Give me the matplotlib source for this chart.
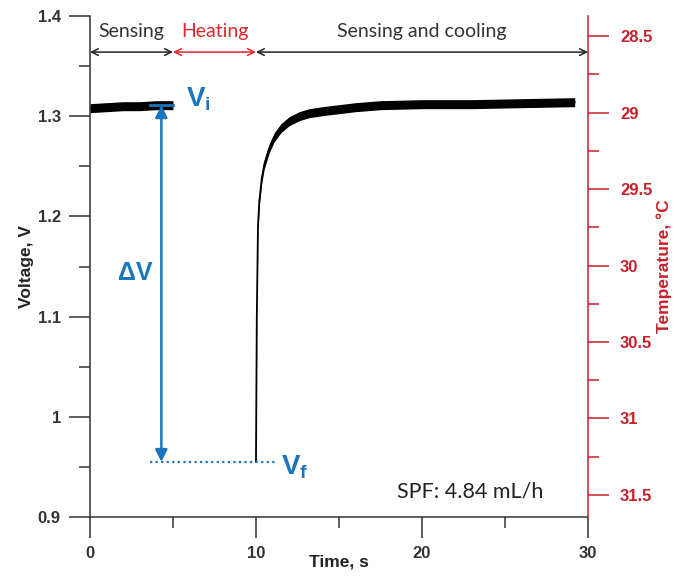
import matplotlib
matplotlib.use("Agg")
import matplotlib.pyplot as plt
from matplotlib.ticker import MultipleLocator, FuncFormatter
import numpy as np

# ---- data ----
t_sensing = [0.0, 1.0, 2.0, 3.0, 4.0, 5.0]
v_sensing = [1.308, 1.309, 1.310, 1.310, 1.311, 1.311]

t_cooling = [10.0, 10.05, 10.12, 10.2, 10.35, 10.5, 10.8, 11.1, 11.5, 12.0,
             12.6, 13.2, 14.0, 15.0, 16.0, 17.5, 20.0, 23.0, 26.0, 29.2]
v_cooling = [0.955, 1.10, 1.19, 1.215, 1.238, 1.252, 1.268, 1.279, 1.288, 1.295,
             1.300, 1.303, 1.305, 1.307, 1.309, 1.311, 1.312, 1.312, 1.313, 1.314]

noise_band = 0.0045          # half-width of the signal noise band, V
v_initial = 1.311            # V_i
v_final = 0.955              # V_f
phase_bounds = [0, 5, 10, 30]
phase_labels = ["Sensing", "Heating", "Sensing and cooling"]
spf_label = "SPF: 4.84 mL/h"

BLUE = "#1b75bc"
RED = "#e0262d"
AXRED = "#c8202a"
DARK = "#222222"

plt.rcParams["mathtext.fontset"] = "custom"
plt.rcParams["mathtext.bf"] = "Liberation Sans:bold"
plt.rcParams["mathtext.rm"] = "Liberation Sans"

fig = plt.figure(figsize=(6.75, 5.84), dpi=100)
ax = fig.add_axes([0.1333, 0.1147, 0.7378, 0.8579])

# voltage trace
for tt, vv in ((t_sensing, v_sensing), (t_cooling, v_cooling)):
    tt = np.asarray(tt)
    vv = np.asarray(vv)
    ax.fill_between(tt, vv - noise_band, vv + noise_band, color="black", lw=0)
    ax.plot(tt, vv, color="black", lw=1.3)

ax.set_xlim(0, 30)
ax.set_ylim(0.9, 1.4)
ax.xaxis.set_major_locator(MultipleLocator(10))
ax.xaxis.set_minor_locator(MultipleLocator(5))
ax.yaxis.set_major_locator(MultipleLocator(0.1))
ax.yaxis.set_minor_locator(MultipleLocator(0.05))
ax.yaxis.set_major_formatter(FuncFormatter(lambda v, p: f"{v:g}"))
ax.tick_params(which="major", length=15, width=1.1, color="#333333",
               direction="out", pad=6)
ax.tick_params(which="minor", length=8, width=1.1, color="#333333", direction="out")
for s in ("top", "right"):
    ax.spines[s].set_visible(False)
for s in ("left", "bottom"):
    ax.spines[s].set_color("#333333")
    ax.spines[s].set_linewidth(1.1)
for lbl in ax.get_xticklabels() + ax.get_yticklabels():
    lbl.set_fontfamily("Liberation Sans")
    lbl.set_fontweight("bold")
    lbl.set_fontsize(12)
    lbl.set_color("#333333")

ax.set_xlabel("Time, s", fontfamily="Liberation Sans", fontweight="bold",
              fontsize=12.5, color=DARK)
ax.xaxis.set_label_coords(0.5, -0.074)
ax.set_ylabel("Voltage, V", fontfamily="Liberation Sans", fontweight="bold",
              fontsize=12.5, color=DARK)
ax.yaxis.set_label_coords(-0.113, 0.5)

# temperature axis (inverted)
ax2 = ax.twinx()
ax2.set_ylim(31.644, 28.369)
ax2.yaxis.set_major_locator(MultipleLocator(0.5))
ax2.yaxis.set_minor_locator(MultipleLocator(0.25))
ax2.yaxis.set_major_formatter(FuncFormatter(lambda v, p: f"{v:g}"))
for s in ("top", "left", "bottom"):
    ax2.spines[s].set_visible(False)
ax2.spines["right"].set_color(AXRED)
ax2.spines["right"].set_linewidth(1.1)
ax2.tick_params(which="major", length=15, width=1.1, color=AXRED, pad=8)
ax2.tick_params(which="minor", length=8, width=1.1, color=AXRED)
for lbl in ax2.get_yticklabels():
    lbl.set_fontfamily("Liberation Sans")
    lbl.set_fontweight("bold")
    lbl.set_fontsize(12)
    lbl.set_color(AXRED)
ax2.set_ylabel("Temperature, °C", fontfamily="Liberation Sans", fontweight="bold",
               fontsize=12.5, color=AXRED)
ax2.yaxis.set_label_coords(1.137, 0.5)

# phase arrows and labels
arrow_y = 1.364
label_y = 1.385
colors = [DARK, RED, DARK]
for i, name in enumerate(phase_labels):
    a, b = phase_bounds[i], phase_bounds[i + 1]
    ax.annotate("", xy=(b, arrow_y), xytext=(a, arrow_y),
                arrowprops=dict(arrowstyle="<->", color=colors[i], lw=1.1,
                                mutation_scale=12, shrinkA=0, shrinkB=0),
                annotation_clip=False)
    ax.text((a + b) / 2, label_y, name, ha="center", va="center",
            fontfamily="Lato", fontsize=14, color=colors[i] if i == 1 else "#333333")

# delta V annotation
ax.plot([3.6, 5.0], [v_initial, v_initial], color=BLUE, lw=2)
ax.plot([3.6, 11.2], [v_final, v_final], color=BLUE, lw=1.6, ls=(0, (1, 1.5)))
ax.annotate("", xy=(4.3, v_final), xytext=(4.3, v_initial),
            arrowprops=dict(arrowstyle="<|-|>", color=BLUE, lw=1.8,
                            mutation_scale=18, shrinkA=0, shrinkB=0))
ax.text(2.75, 1.144, "ΔV", ha="center", va="center", color=BLUE,
        fontfamily="Liberation Sans", fontweight="bold", fontsize=18)
ax.text(5.8, 1.317, r"$\mathbf{V}_{\mathbf{i}}$", ha="left", va="center",
        color=BLUE, fontsize=20)
ax.text(11.5, 0.950, r"$\mathbf{V}_{\mathbf{f}}$", ha="left", va="center",
        color=BLUE, fontsize=20)

ax.text(18.5, 0.925, spf_label, ha="left", va="center", fontfamily="Lato",
        fontsize=15.5, color=DARK)

fig.savefig("out.png", dpi=100)
